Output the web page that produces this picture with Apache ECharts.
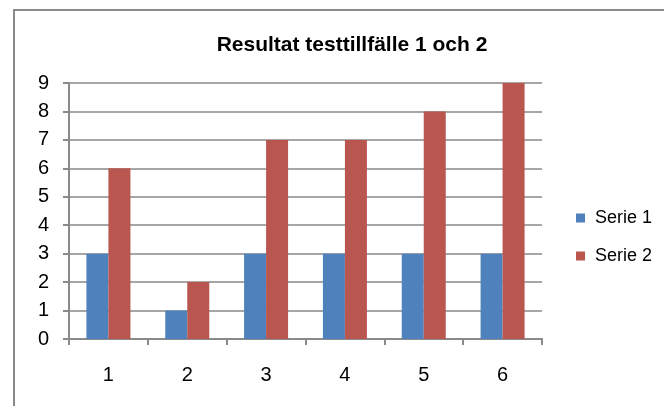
<!DOCTYPE html>
<html>
<head>
<meta charset="utf-8">
<script src="https://cdn.jsdelivr.net/npm/echarts@6/dist/echarts.min.js"></script>
<style>
  html, body { margin: 0; padding: 0; background: #fff; }
  #chart { width: 664px; height: 406px; }
</style>
</head>
<body>
<div id="chart"></div>
<script>
var categories = ['1', '2', '3', '4', '5', '6'];
var serie1 = [3, 1, 3, 3, 3, 3];
var serie2 = [6, 2, 7, 7, 8, 9];
var seriesNames = ['Serie 1', 'Serie 2'];

var chart = echarts.init(document.getElementById('chart'));
var font = 'Liberation Sans, Arial, sans-serif';

chart.setOption({
  animation: false,
  title: {
    text: 'Resultat testtillfälle 1 och 2',
    left: 347,
    textAlign: 'center',
    top: 30,
    textStyle: { fontFamily: font, fontSize: 21, fontWeight: 'bold', color: '#000' }
  },
  // outer chart frame, partly cut off on the right and bottom
  graphic: [{
    type: 'rect',
    shape: { x: 14, y: 10, width: 720, height: 460 },
    style: { fill: null, stroke: '#8a8a8a', lineWidth: 2 }
  }],
  legend: {
    orient: 'vertical',
    left: 576,
    top: 208,
    padding: 0,
    itemWidth: 9,
    itemHeight: 9,
    itemGap: 18,
    icon: 'rect',
    data: seriesNames,
    textStyle: { fontFamily: font, fontSize: 18, color: '#000', lineHeight: 20, padding: [0, 0, 0, 5] }
  },
  grid: { left: 69, right: 122, top: 83, bottom: 67, containLabel: false },
  xAxis: {
    type: 'category',
    data: categories,
    axisLine: { lineStyle: { color: '#8a8a8a', width: 2 } },
    axisTick: { show: true, length: 6, lineStyle: { color: '#8a8a8a', width: 2 } },
    axisLabel: { fontFamily: font, fontSize: 20, color: '#000', margin: 26 }
  },
  yAxis: {
    type: 'value',
    min: 0,
    max: 9,
    interval: 1,
    axisLine: { show: true, lineStyle: { color: '#8a8a8a', width: 2 } },
    axisTick: { show: true, length: 6, lineStyle: { color: '#8a8a8a', width: 2 } },
    axisLabel: { fontFamily: font, fontSize: 20, color: '#000', margin: 20 },
    splitLine: { lineStyle: { color: '#a6a6a6', width: 2 } }
  },
  series: [
    { name: seriesNames[0], type: 'bar', data: serie1, barWidth: 22, barGap: '0%', itemStyle: { color: '#4f81bd' } },
    { name: seriesNames[1], type: 'bar', data: serie2, barWidth: 22, barGap: '0%', itemStyle: { color: '#b9564f' } }
  ]
});
</script>
</body>
</html>
